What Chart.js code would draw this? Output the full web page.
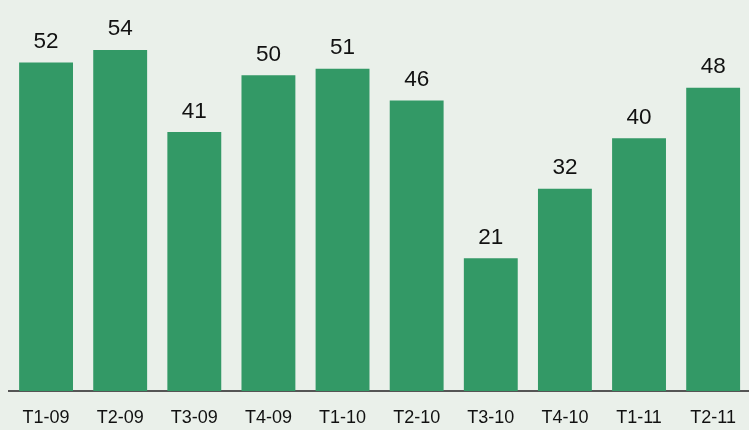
<!DOCTYPE html>
<html>
<head>
<meta charset="utf-8">
<script src="https://cdn.jsdelivr.net/npm/chart.js@4"></script>
<style>
html,body{margin:0;padding:0;background:#eaf0ea;overflow:hidden;}
#wrap{width:752px;height:430px;position:relative;}
</style>
</head>
<body>
<div id="wrap"><canvas id="c"></canvas></div>
<script>
const categories = ["T1-09","T2-09","T3-09","T4-09","T1-10","T2-10","T3-10","T4-10","T1-11","T2-11"];
const values = [52,54,41,50,51,46,21,32,40,48];
const barColor = "#339966";

const labelPlugin = {
  id: 'valueLabels',
  afterDatasetsDraw(chart) {
    const ctx = chart.ctx;
    const meta = chart.getDatasetMeta(0);
    ctx.save();
    ctx.font = '22.5px "Liberation Sans", Arial, sans-serif';
    ctx.fillStyle = '#111111';
    ctx.textAlign = 'center';
    ctx.textBaseline = 'alphabetic';
    meta.data.forEach((bar, i) => {
      ctx.fillText(String(values[i]), bar.x, bar.y - 14.5);
    });
    ctx.restore();
  }
};

new Chart(document.getElementById('c'), {
  type: 'bar',
  data: {
    labels: categories,
    datasets: [{
      data: values,
      backgroundColor: barColor,
      borderWidth: 0,
      barPercentage: 0.727,
      categoryPercentage: 1
    }]
  },
  options: {
    responsive: true,
    maintainAspectRatio: false,
    animation: false,
    devicePixelRatio: 1,
    layout: { padding: { left: 9, right: 0, top: 12, bottom: 0 } },
    plugins: { legend: { display: false }, tooltip: { enabled: false } },
    scales: {
      x: {
        grid: { display: false, drawTicks: false },
        border: { display: true, color: '#555555', width: 2 },
        ticks: {
          color: '#111111',
          padding: 16,
          maxRotation: 0,
          autoSkip: false,
          font: { family: '"Liberation Sans", Arial, sans-serif', size: 18 }
        },
        afterFit(scale) { scale.height = 39; }
      },
      y: {
        display: false,
        min: 0,
        max: 60
      }
    }
  },
  plugins: [labelPlugin]
});
</script>
</body>
</html>
